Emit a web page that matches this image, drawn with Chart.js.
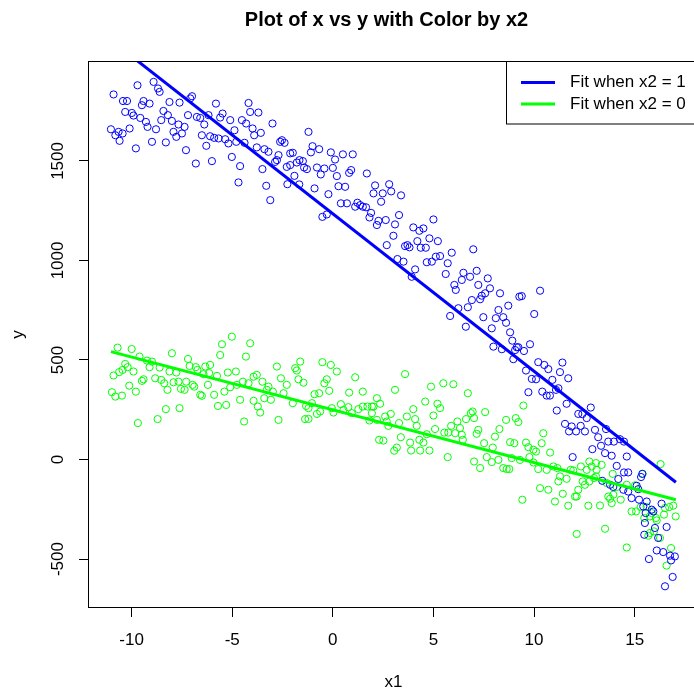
<!DOCTYPE html>
<html><head><meta charset="utf-8">
<script src="https://cdn.jsdelivr.net/npm/chart.js@4.4.1/dist/chart.umd.min.js"></script>
<style>
html,body{margin:0;padding:0;background:#fff;overflow:hidden;}
#wrap{width:694px;height:689px;overflow:hidden;position:relative;background:#fff;}
canvas{display:block;}
</style></head><body>
<div id="wrap"><canvas id="c" width="720" height="700" style="width:720px;height:700px"></canvas></div>
<script>
// ---- data ----
const bluePoints = [
[-10.90,1834],[-9.71,1880],[-8.91,1897],[-8.69,1864],[-8.61,1847],[-10.43,1801],[-10.23,1801],[-9.41,1801],[-9.49,1780],[-9.11,1788],
[-8.12,1796],[-7.62,1793],[-7.09,1814],[-7.00,1825],[-5.81,1788],[-4.19,1791],[-10.32,1746],[-9.99,1741],[-9.91,1728],[-9.57,1716],
[-8.42,1751],[-8.20,1730],[-8.53,1705],[-8.00,1701],[-7.20,1730],[-6.76,1721],[-6.59,1716],[-6.18,1730],[-5.60,1718],[-5.48,1738],
[-5.10,1705],[-4.11,1746],[-3.70,1743],[-4.52,1705],[-4.31,1688],[-3.00,1688],[-11.03,1659],[-10.81,1629],[-10.65,1646],[-10.45,1638],
[-10.60,1601],[-10.10,1663],[-9.29,1696],[-9.21,1671],[-8.79,1659],[-7.92,1646],[-7.78,1621],[-7.50,1638],[-7.67,1683],[-7.37,1671],
[-6.39,1683],[-6.51,1629],[-6.10,1624],[-5.90,1616],[-5.68,1613],[-4.89,1654],[-5.35,1609],[-5.19,1588],[-4.80,1596],[-3.99,1663],
[-3.91,1629],[-3.58,1641],[-4.39,1591],[-2.53,1604],[-2.40,1591],[-2.62,1596],[-3.78,1568],[-3.40,1559],[-3.20,1546],[-2.70,1529],
[-2.78,1504],[-2.87,1495],[-2.12,1538],[-2.29,1470],[-2.12,1479],[-9.79,1563],[-8.99,1596],[-8.30,1593],[-6.29,1576],[-7.30,1554],
[-6.81,1487],[-6.01,1499],[-5.02,1520],[-4.61,1474],[-3.50,1459],[-4.69,1392],[-3.31,1375],[-3.11,1303],[-2.26,1383],
[-1.21,1646],[-1.01,1574],[-1.09,1543],[-0.68,1559],[-1.99,1541],[-0.10,1543],[0.50,1533],[0.99,1533],[0.11,1507],[-1.79,1492],
[-1.66,1504],[-1.49,1499],[-1.43,1467],[-1.29,1459],[-0.79,1467],[-0.42,1462],[0.00,1465],[-0.60,1432],[-1.91,1425],[0.20,1424],
[0.81,1440],[0.91,1454],[1.69,1437],[-1.67,1382],[-0.91,1362],[-0.22,1333],[0.28,1373],[0.61,1370],[2.10,1377],[2.80,1383],
[2.02,1337],[2.48,1337],[2.90,1347],[3.39,1327],[2.40,1295],[0.40,1287],[0.70,1287],[1.11,1270],[1.22,1290],[1.36,1278],
[1.49,1270],[1.65,1267],[1.90,1239],[1.82,1216],[-0.52,1219],[-0.30,1231],[2.27,1199],[2.19,1178],[2.63,1203],[3.29,1228],
[3.09,1181],[3.01,1124],[2.68,1077],[4.00,1166],[4.50,1161],[4.30,1149],[5.00,1206],[4.20,1097],[4.80,1111],[5.22,1097],
[3.59,1072],[3.71,1077],[3.81,1066],[4.37,1064],[4.62,1064],[3.21,1007],[3.51,994],[4.67,991],[4.92,994],[5.12,1019],
[5.33,1022],[5.91,1039],[6.98,1056],[5.71,986],[4.09,955],[3.92,918],[5.61,932],[6.49,938],[6.82,918],[7.15,948],
[6.04,877],[6.11,852],[6.41,902],[7.23,877],[7.70,910],[7.81,860],[7.57,835],[7.40,823],[7.32,805],[6.91,801],
[6.71,765],[6.24,760],[5.83,721],[8.31,835],[9.27,818],[9.39,821],[10.30,848],[8.72,773],[8.23,751],[8.10,710],
[8.47,715],[8.61,687],[7.48,715],[7.90,659],[6.61,667],[10.01,731],[8.81,639],[8.92,597],[9.14,564],[9.22,564],
[9.06,550],[9.50,545],[9.80,579],[7.98,567],[8.40,554],[8.97,504],[10.21,489],[10.51,475],[10.71,454],[11.41,487],
[11.29,439],[11.70,408],[9.60,447],[9.89,405],[10.10,403],[10.91,400],[9.72,338],[10.41,341],[10.63,321],[10.79,321],
[11.09,350],[11.21,358],[11.62,280],[11.13,246],[12.82,261],[12.20,229],[12.40,228],[12.62,208],[11.54,179],[11.87,166],
[12.32,169],[13.03,149],
[12.09,141],[11.74,141],[12.53,141],[13.58,153],[13.19,112],[13.69,90],[13.97,90],[14.27,102],[14.47,90],[13.33,69],
[12.90,52],[13.53,32],[13.86,19],[14.61,15],[11.92,12],[14.11,-32],[14.47,-65],[14.68,-65],[15.32,-88],[15.38,-72],
[14.19,-98],[13.78,-127],[13.94,-138],[14.44,-152],[14.68,-161],[15.10,-132],[15.18,-149],[13.39,-107],[14.85,-194],[15.22,-202],
[15.60,-211],[15.85,-252],[15.93,-261],[16.34,-222],[15.43,-236],[15.55,-269],[15.51,-319],[16.01,-344],[16.59,-339],[16.17,-394],
[15.48,-378],[16.10,-457],[16.42,-465],[16.76,-483],[17.00,-487],[16.81,-507],[15.71,-500],[16.89,-590],[16.51,-637]
];
const greenPoints = [
[-10.70,562],[-10.00,555],[-9.61,517],[-9.24,497],[-8.99,492],[-9.11,464],[-8.61,462],[-8.00,534],[-10.32,480],[-10.20,464],
[-10.45,450],[-10.62,439],[-10.90,422],[-9.91,442],[-9.41,403],[-9.49,395],[-8.83,408],[-8.53,400],[-8.38,383],[-8.12,442],
[-7.78,437],[-10.12,371],[-9.79,341],[-10.98,338],[-10.81,316],[-10.48,321],[-8.22,350],[-7.92,388],[-7.67,391],[-7.55,355],
[-7.37,350],[-7.29,391],[-6.97,375],[-6.89,366],[-7.20,505],[-7.12,470],[-6.81,464],[-6.73,450],[-6.34,467],[-6.10,475],
[-5.51,579],[-5.60,525],[-5.02,617],[-4.11,584],[-4.32,517],[-6.43,429],[-6.15,434],[-5.76,420],[-5.22,437],[-4.82,442],
[-6.59,325],[-6.51,320],[-6.21,375],[-5.90,325],[-5.39,341],[-5.10,363],[-4.77,375],[-4.47,391],[-4.19,383],[-3.94,416],
[-3.78,425],[-3.50,391],[-3.20,366],[-3.28,350],[-5.71,269],[-5.30,274],[-4.61,300],[-3.94,295],[-3.73,266],[-3.61,236],
[-3.41,308],[-3.08,300],[-2.98,341],[-2.78,467],[-2.58,408],[-2.29,375],[-2.45,333],[-8.30,253],[-7.62,258],[-8.71,203],
[-9.69,183],[-4.41,191],[-2.70,199],
[-1.62,492],[-1.87,459],[-1.79,447],[-1.71,403],[-1.46,386],[-0.52,489],[-0.10,475],[0.20,442],[1.11,413],[3.59,429],
[-0.30,403],[-0.42,383],[-0.18,345],[-0.68,333],[-0.91,328],[0.81,336],[1.49,341],[3.09,350],[4.88,366],[5.49,383],
[5.99,378],[6.71,333],[4.59,291],[5.20,280],[5.33,258],[5.00,221],[2.19,308],[2.35,280],[1.94,266],[-1.99,283],
[-1.33,269],[-1.04,283],[-1.21,258],[-0.79,229],[-0.63,241],[-0.05,258],[0.03,236],[0.40,278],[0.53,249],[0.77,263],
[0.94,233],[1.27,253],[1.49,266],[1.72,266],[1.94,233],[2.02,266],[-1.38,203],[-1.21,204],[1.82,196],[2.19,199],
[2.60,216],[2.68,191],[2.88,229],[3.29,183],[2.76,169],[3.68,216],[4.00,253],[4.09,203],[4.17,169],[4.67,127],
[5.08,153],[5.54,135],[5.74,135],[5.88,169],[6.19,191],[6.32,158],[6.62,203],[6.86,233],[6.95,241],[7.02,208],
[7.23,149],[6.08,132],[6.46,99],[6.41,124],[2.30,99],[2.51,95],[3.38,112],[3.84,85],[4.30,99],[4.50,85],
[3.18,60],[3.05,44],[3.89,45],[4.34,45],[4.80,45],[5.71,12],[7.02,-10],
[9.47,271],[7.57,238],[8.61,199],[9.09,208],[9.22,188],[7.15,129],[8.28,153],[8.06,115],[10.46,132],[7.52,82],
[7.95,60],[8.81,87],[9.02,82],[9.60,85],[9.72,62],[9.97,49],[10.10,40],[10.38,82],[10.80,35],[7.65,12],
[7.90,-13],[8.23,-2],[7.32,-43],[8.47,-43],[8.64,-48],[8.77,-48],[8.89,7],[9.30,-2],[9.77,12],[9.97,-15],
[10.21,-48],[10.63,-52],[10.96,-35],[11.16,-43],[11.29,-85],[11.21,-110],[11.62,-97],[11.82,-52],[11.95,-55],[12.33,-35],
[12.62,-52],[12.75,-10],[12.87,-35],[13.11,-52],[13.08,-18],[13.36,-27],[13.08,-85],[12.75,-110],[12.98,-93],[12.20,-152],
[12.12,-186],[12.42,-110],[12.53,-127],[13.91,-72],[13.61,-118],[14.11,-138],[14.61,-127],[15.02,-130],[15.40,-72],[16.29,-23],
[10.30,-144],[10.71,-152],[11.43,-172],[11.04,-211],[11.70,-232],[12.04,-186],[12.70,-232],[13.28,-231],[13.69,-186],[13.78,-197],
[13.94,-177],[14.31,-202],[13.86,-219],[9.42,-202],[14.85,-261],[15.07,-261],[15.30,-239],[15.60,-239],[15.85,-269],[16.06,-294],
[15.48,-294],[16.51,-244],[16.72,-239],[16.92,-232],[17.04,-286],[16.46,-277],[16.10,-306],[15.76,-286],[15.76,-369],[15.96,-361],
[15.68,-383],[16.26,-394],[16.81,-445],[16.59,-533],[13.53,-348],[12.12,-374],[14.61,-442]
];
const fitX = [-11.03, 17.05];
const fitBlue = [2107, -114];
const fitGreen = [542, -202];
const xTicks = [-10, -5, 0, 5, 10, 15];
const yTicks = [-500, 0, 500, 1000, 1500];
const xRange = [-12.12, 18.15];
const yRange = [-741, 1997];
const titleText = 'Plot of x vs y with Color by x2';
const xLabel = 'x1';
const yLabel = 'y';
const legendLabels = ['Fit when x2 = 1', 'Fit when x2 = 0'];
const BLUE = '#0000FF', GREEN = '#00FF00';
const FONT = "'Liberation Sans', Arial, Helvetica, sans-serif";

const toXY = arr => arr.map(p => ({x: p[0], y: p[1]}));
const fitData = ys => fitX.map((x, i) => ({x, y: ys[i]}));

const rPlot = {
  id: 'rplot',
  afterDraw(chart) {
    const {ctx, chartArea: a, scales} = chart;
    ctx.save();
    // plot box
    ctx.strokeStyle = '#000'; ctx.lineWidth = 1;
    ctx.strokeRect(a.left - 0.5, a.top - 0.5, a.right - a.left + 1, a.bottom - a.top + 1);
    // y tick labels (rotated, R style)
    ctx.fillStyle = '#000';
    ctx.font = '17px ' + FONT;
    ctx.textAlign = 'center'; ctx.textBaseline = 'middle';
    scales.y.ticks.forEach(t => {
      const py = scales.y.getPixelForValue(t.value);
      ctx.save(); ctx.translate(58, py); ctx.rotate(-Math.PI / 2);
      ctx.fillText(String(t.value), 0, 0); ctx.restore();
    });
    // title
    ctx.font = 'bold 20px ' + FONT;
    ctx.textBaseline = 'alphabetic';
    ctx.fillText(titleText, (a.left + a.right) / 2 - 7, 26);
    // legend
    const w = 192, h = 62.5;
    const lx = a.right - w, ly = a.top - 0.5;
    ctx.strokeRect(Math.round(lx) + 0.5, ly, w, h);
    const cols = [BLUE, GREEN];
    ctx.font = '17px ' + FONT;
    ctx.textAlign = 'left'; ctx.textBaseline = 'middle';
    legendLabels.forEach((lab, i) => {
      const yy = ly + 21 + i * 21.5;
      ctx.strokeStyle = cols[i]; ctx.lineWidth = 3;
      ctx.beginPath(); ctx.moveTo(lx + 15, yy); ctx.lineTo(lx + 49, yy); ctx.stroke();
      ctx.fillStyle = '#000';
      ctx.fillText(lab, lx + 64, yy);
    });
    ctx.restore();
  }
};

new Chart(document.getElementById('c'), {
  type: 'scatter',
  data: {
    datasets: [
      {label: legendLabels[0], data: fitData(fitBlue), showLine: true, borderColor: BLUE, borderWidth: 3, pointRadius: 0, order: 0},
      {label: legendLabels[1], data: fitData(fitGreen), showLine: true, borderColor: GREEN, borderWidth: 3, pointRadius: 0, order: 1},
      {label: 'x2 = 1', data: toXY(bluePoints), borderColor: BLUE, backgroundColor: 'rgba(0,0,0,0)', pointRadius: 3.6, borderWidth: 1, order: 2},
      {label: 'x2 = 0', data: toXY(greenPoints), borderColor: GREEN, backgroundColor: 'rgba(0,0,0,0)', pointRadius: 3.6, borderWidth: 1, order: 3}
    ]
  },
  options: {
    responsive: false,
    animation: false,
    devicePixelRatio: 1,
    events: [],
    layout: {padding: {top: 62, right: 22, left: 0, bottom: 0}},
    plugins: {legend: {display: false}, tooltip: {enabled: false}, title: {display: false}},
    scales: {
      x: {
        type: 'linear', position: 'bottom', min: xRange[0], max: xRange[1],
        afterBuildTicks: s => { s.ticks = xTicks.map(v => ({value: v})); },
        afterFit: s => { s.height = 93; },
        grid: {display: true, drawOnChartArea: false, drawTicks: true, tickLength: 10, color: '#000', lineWidth: 1},
        border: {display: false},
        ticks: {color: '#000', font: {family: FONT, size: 17}, padding: 13, maxRotation: 0, autoSkip: false},
        title: {display: true, text: xLabel, color: '#000', font: {family: FONT, size: 17}, padding: {top: 0, bottom: 7}}
      },
      y: {
        type: 'linear', position: 'left', min: yRange[0], max: yRange[1],
        afterBuildTicks: s => { s.ticks = yTicks.map(v => ({value: v})); },
        afterFit: s => { s.width = 89; },
        grid: {display: true, drawOnChartArea: false, drawTicks: true, tickLength: 10, color: '#000', lineWidth: 1},
        border: {display: false},
        ticks: {display: false},
        title: {display: true, text: yLabel, color: '#000', font: {family: FONT, size: 17}, padding: {top: 8, bottom: 0}}
      }
    }
  },
  plugins: [rPlot]
});
</script>
</body></html>
